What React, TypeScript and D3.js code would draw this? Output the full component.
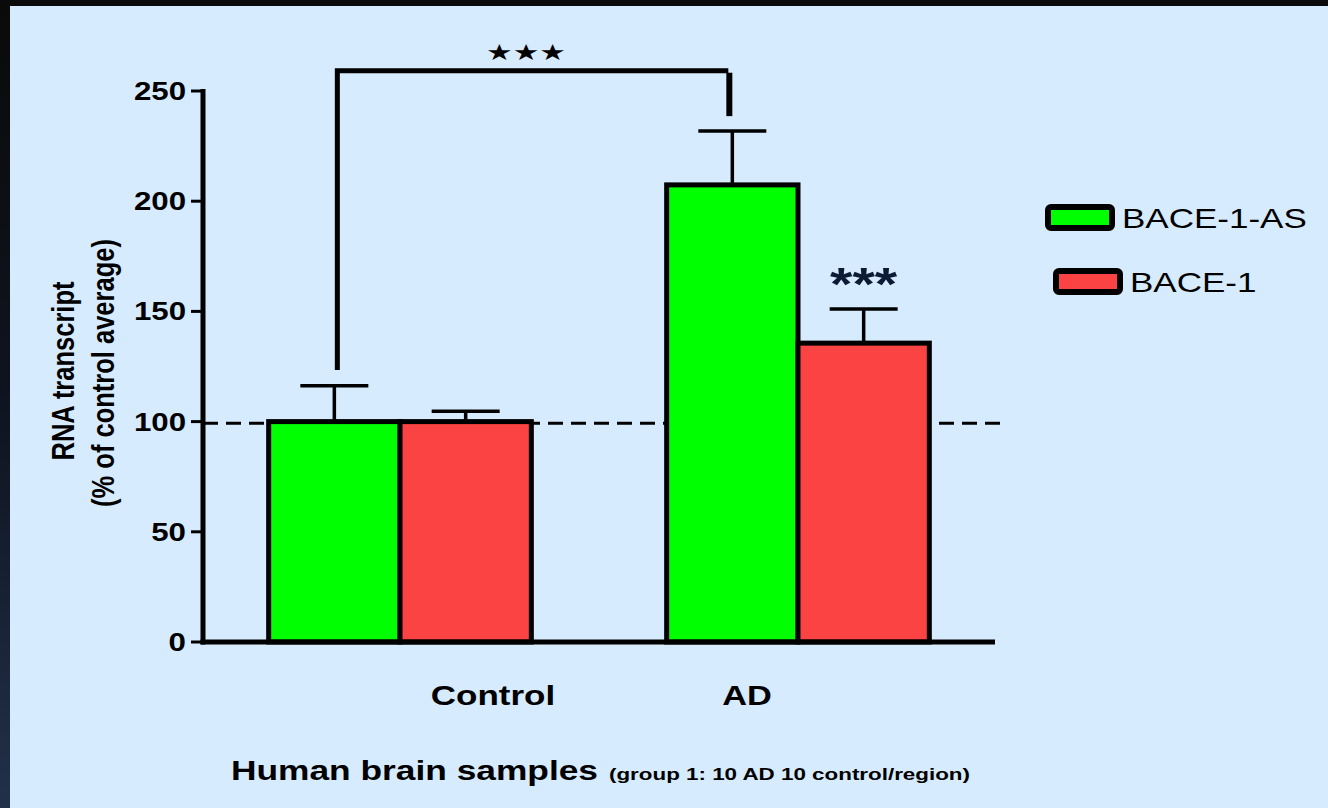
import React from "react";
import * as d3 from "d3";

const categories = ["Control", "AD"];
const seriesNames = ["BACE-1-AS", "BACE-1"];
const seriesColors = ["#00ff00", "#fb4343"];
const bace1asMean = [100, 207.4];
const bace1asSem = [16.3, 24.5];
const bace1Mean = [100, 135.6];
const bace1Sem = [4.7, 15.5];
const yTicks = [0, 50, 100, 150, 200, 250];
const referenceLine = 99.2;
// bracket: top value, left leg bottom value, right leg bottom value
const bracketValues = [259.2, 123.4, 238.6];

const W = 1328;
const H = 808;
const SX = 1.25;
const FONT = "'Liberation Sans', Arial, Helvetica, sans-serif";

function T(props: any) {
  const { x, y, size, weight = "normal", anchor = "start", fill = "#000", rotate, family = FONT, children, textLength } = props;
  return (
    <text
      transform={`translate(${x},${y}) scale(${SX},1)${rotate ? ` rotate(${rotate})` : ""}`}
      fontSize={size}
      fontWeight={weight}
      textAnchor={anchor}
      fill={fill}
      fontFamily={family}
      textLength={textLength}
      lengthAdjust={textLength ? "spacingAndGlyphs" : undefined}
    >
      {children}
    </text>
  );
}

export default function App() {
  const y = d3.scaleLinear().domain([0, 250]).range([642, 91]);
  const x0 = d3.scaleBand<string>().domain(categories).range([203, 995]).paddingInner(0.34).paddingOuter(0.165);
  const x1 = d3.scaleBand<string>().domain(seriesNames).range([0, x0.bandwidth()]).padding(0);
  const means = [bace1asMean, bace1Mean];
  const sems = [bace1asSem, bace1Sem];

  const bars: any[] = [];
  categories.forEach((c, ci) => {
    seriesNames.forEach((s, si) => {
      const bx = (x0(c) as number) + (x1(s) as number);
      const bw = x1.bandwidth();
      bars.push({ c, s, ci, si, bx, bw, v: means[si][ci], e: sems[si][ci] });
    });
  });

  const greenCenter = (c: string) => (x0(c) as number) + (x1(seriesNames[0]) as number) + x1.bandwidth() / 2;
  const bl = greenCenter("Control") + 3;
  const br = greenCenter("AD") - 4;
  const bracketPath = d3.line()([
    [bl, y(bracketValues[1])],
    [bl, y(bracketValues[0])],
    [br, y(bracketValues[0])],
  ]);

  const adRed = bars.find((b) => b.c === "AD" && b.si === 1);

  return (
    <svg width={W} height={H} style={{ position: "absolute", left: 0, top: 0 }}>
      <defs>
        <linearGradient id="lf" x1="0" y1="0" x2="0" y2="1">
          <stop offset="0" stopColor="#0a0a0a" />
          <stop offset="0.5" stopColor="#0e1420" />
          <stop offset="1" stopColor="#22304a" />
        </linearGradient>
      </defs>
      <rect x={0} y={0} width={W} height={H} fill="#d6ebfd" />
      <rect x={0} y={0} width={W} height={6} fill="#0a0a0a" />
      <rect x={0} y={0} width={10} height={H} fill="url(#lf)" />

      {/* dashed reference line */}
      <line x1={203} x2={1004} y1={y(referenceLine)} y2={y(referenceLine)} stroke="#000" strokeWidth={3} strokeDasharray="15,8" />

      {/* bars */}
      {bars.map((b, i) => (
        <rect key={i} x={b.bx} y={y(b.v)} width={b.bw} height={y(0) - y(b.v)} fill={seriesColors[b.si]} stroke="#000" strokeWidth={5} />
      ))}

      {/* error bars */}
      {bars.map((b, i) => {
        const cx = b.bx + b.bw / 2;
        return (
          <g key={"e" + i} stroke="#000">
            <line x1={cx} x2={cx} y1={y(b.v) - 2} y2={y(b.v + b.e)} strokeWidth={3.5} />
            <line x1={cx - 34} x2={cx + 34} y1={y(b.v + b.e)} y2={y(b.v + b.e)} strokeWidth={3.5} />
          </g>
        );
      })}

      {/* axes */}
      <line x1={203} x2={203} y1={y(250) - 2} y2={y(0) + 2.5} stroke="#000" strokeWidth={5} />
      <line x1={200.5} x2={995} y1={y(0)} y2={y(0)} stroke="#000" strokeWidth={5} />
      {yTicks.map((t) => (
        <g key={t}>
          <line x1={191} x2={203} y1={y(t)} y2={y(t)} stroke="#000" strokeWidth={3} />
          <T x={186} y={y(t) + 9} size={25} weight="bold" anchor="end">
            {t}
          </T>
        </g>
      ))}

      {/* x labels */}
      <T x={493} y={705} size={28} weight="bold" anchor="middle">
        Control
      </T>
      <T x={747} y={705} size={27.5} weight="bold" anchor="middle">
        AD
      </T>

      {/* y title */}
      <T x={74} y={371} size={25.5} weight="bold" anchor="middle" rotate={-90}>
        RNA transcript
      </T>
      <T x={114} y={373} size={25.5} weight="bold" anchor="middle" rotate={-90}>
        (% of control average)
      </T>

      {/* bottom title */}
      <text x={231} y={780} fontFamily={FONT} fontWeight="bold" fontSize={28} textLength={367} lengthAdjust="spacingAndGlyphs">
        Human brain samples
      </text>
      <text x={609} y={780} fontFamily={FONT} fontWeight="bold" fontSize={16.5} textLength={361} lengthAdjust="spacingAndGlyphs">
        (group 1: 10 AD 10 control/region)
      </text>

      {/* significance bracket */}
      <path d={bracketPath || ""} fill="none" stroke="#000" strokeWidth={5} strokeLinejoin="miter" />
      <line x1={br + 1} x2={br + 1} y1={y(bracketValues[0]) + 2} y2={y(bracketValues[2])} stroke="#000" strokeWidth={6} />
      <text x={526} y={60} fontSize={22} textAnchor="middle" fontFamily="'DejaVu Sans', sans-serif" textLength={80} lengthAdjust="spacingAndGlyphs">
        ★★★
      </text>

      {/* stars over AD BACE-1 */}
      <T x={adRed.bx + adRed.bw / 2} y={300} size={46} weight="bold" anchor="middle" fill="#0c1a33">
        ***
      </T>

      {/* legend */}
      {seriesNames.map((s, i) => {
        const lx = i === 0 ? 1048 : 1056;
        const ly = i === 0 ? 207 : 271;
        return (
          <g key={s}>
            <rect x={lx} y={ly} width={64} height={21} rx={3} fill={seriesColors[i]} stroke="#000" strokeWidth={6} />
            <T x={lx + 74} y={ly + 21} size={28}>
              {s}
            </T>
          </g>
        );
      })}
    </svg>
  );
}
